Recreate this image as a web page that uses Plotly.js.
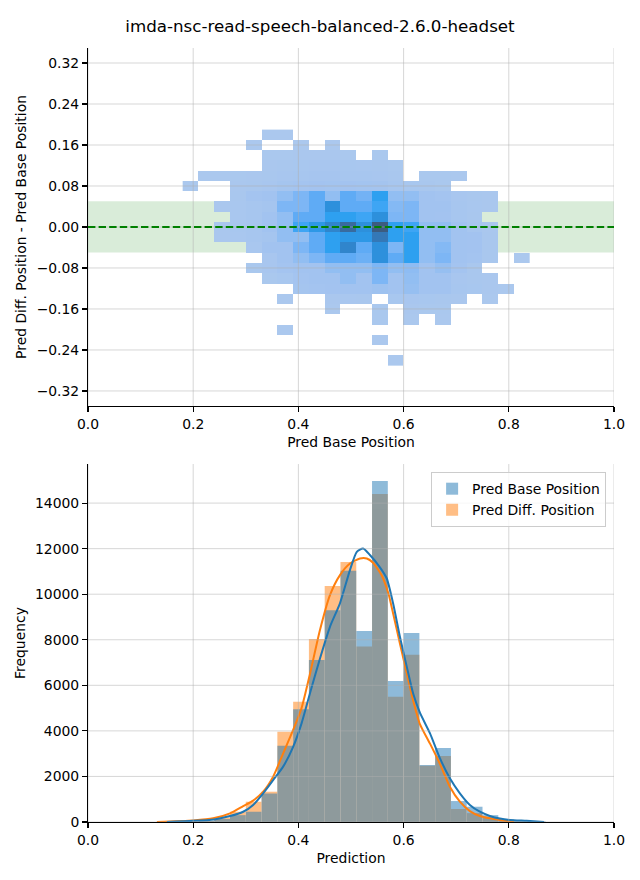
<!DOCTYPE html>
<html>
<head>
<meta charset="utf-8">
<script src="https://cdn.plot.ly/plotly-3.0.1.min.js"></script>
<style>html,body{margin:0;padding:0;background:#fff}#chart{width:640px;height:880px}</style>
</head>
<body>
<div id="chart"></div>
<script>
// ---------- 2D histogram (top) ----------
const heatX = [0.195,0.225,0.255,0.285,0.315,0.345,0.375,0.405,0.435,0.465,0.495,0.525,0.555,0.585,0.615,0.645,0.675,0.705,0.735,0.765,0.795,0.825];
const heatY = [-0.26,-0.24,-0.22,-0.20,-0.18,-0.16,-0.14,-0.12,-0.10,-0.08,-0.06,-0.04,-0.02,0.00,0.02,0.04,0.06,0.08,0.10,0.12,0.14,0.16,0.18];
const heatCounts = [
  [0,0,0,0,0,0,0,0,0,0,0,0,0,4,0,0,0,0,0,0,0,0],
  [0,0,0,0,0,0,0,0,0,0,0,0,0,0,0,0,0,0,0,0,0,0],
  [0,0,0,0,0,0,0,0,0,0,0,0,6,0,0,0,0,0,0,0,0,0],
  [0,0,0,0,0,0,5,0,0,0,0,0,0,0,0,0,0,0,0,0,0,0],
  [0,0,0,0,0,0,0,0,0,0,0,0,20,0,15,0,10,0,0,0,0,0],
  [0,0,0,0,0,0,0,0,0,15,0,0,30,0,40,30,20,0,0,0,0,0],
  [0,0,0,0,0,0,8,0,0,40,80,60,0,90,100,90,70,40,0,12,0,0],
  [0,0,0,0,0,0,0,200,250,280,300,300,350,300,450,300,300,120,90,50,15,0],
  [0,0,0,0,0,30,90,250,300,300,500,300,720,300,500,300,300,110,70,40,0,0],
  [0,0,0,0,30,100,250,300,300,500,500,500,720,500,550,300,450,250,60,0,0,0],
  [0,0,0,0,0,100,300,500,720,950,950,850,1680,950,1420,500,720,300,250,70,0,8],
  [0,0,0,0,80,300,300,720,950,1420,1800,950,1680,720,1420,500,650,300,280,60,0,0],
  [0,0,40,80,140,200,500,500,950,1420,1550,1550,1950,1420,1420,500,500,300,280,60,0,0],
  [0,0,50,90,150,300,500,1200,1550,1800,2150,1680,2400,1420,1200,500,500,300,120,50,0,0],
  [0,0,0,80,140,300,500,950,950,1420,1420,1200,1680,720,720,300,280,120,60,0,0,0],
  [0,0,40,80,130,200,720,720,950,1680,950,950,1200,650,720,300,300,120,80,40,0,0],
  [0,0,0,70,250,300,500,720,950,500,950,800,1420,500,500,300,250,100,70,40,0,0],
  [8,0,0,40,70,110,200,250,280,260,280,260,220,140,90,60,30,0,0,0,0,0],
  [0,10,15,25,40,60,110,150,170,160,150,140,100,60,0,30,25,15,0,0,0,0],
  [0,0,0,0,0,40,70,90,110,100,90,80,60,30,0,0,0,0,0,0,0,0],
  [0,0,0,0,0,20,30,40,45,40,30,0,25,0,0,0,0,0,0,0,0,0],
  [0,0,0,0,6,0,0,12,0,14,0,0,0,0,0,0,0,0,0,0,0,0],
  [0,0,0,0,0,8,10,0,0,0,0,0,0,0,0,0,0,0,0,0,0,0]
];
const bandLimits = [-0.05, 0.05];
const zeroLineY = 0;

// ---------- 1D histograms (bottom) ----------
const histX = [0.165,0.195,0.225,0.255,0.285,0.315,0.345,0.375,0.405,0.435,0.465,0.495,0.525,0.555,0.585,0.615,0.645,0.675,0.705,0.735,0.765,0.795,0.825,0.855];
const baseCounts = [10,20,40,130,300,450,1250,3350,4950,7110,9300,11030,8380,14970,6190,8300,2500,3250,920,670,300,110,50,25];
const diffCounts = [40,25,50,200,450,890,1330,3960,5280,8030,10360,11410,7700,14400,5500,7340,2470,2900,570,390,200,80,30,5];
const binWidth = 0.03;

const kdeBaseX = [0.150,0.200,0.240,0.270,0.295,0.314,0.333,0.352,0.371,0.390,0.406,0.422,0.441,0.460,0.479,0.498,0.511,0.523,0.536,0.555,0.568,0.580,0.593,0.606,0.618,0.631,0.650,0.669,0.688,0.707,0.726,0.745,0.764,0.783,0.802,0.834,0.867];
const kdeBaseY = [5,50,115,260,450,750,1260,1840,2430,3300,4330,5650,7180,8570,9600,11060,11860,12010,11720,11180,10690,9600,8130,6820,5650,4800,3900,2800,1920,1260,750,450,265,150,90,50,0];
const kdeDiffX = [0.131,0.200,0.238,0.270,0.295,0.314,0.333,0.352,0.371,0.390,0.406,0.422,0.441,0.460,0.479,0.498,0.517,0.530,0.542,0.558,0.571,0.580,0.593,0.606,0.618,0.631,0.650,0.669,0.688,0.707,0.726,0.745,0.764,0.783,0.810];
const kdeDiffY = [0,70,160,380,700,940,1330,1990,3010,4040,5000,6500,8430,9960,10840,11350,11570,11570,11380,10840,10040,9160,7840,6530,5350,4300,3450,2550,1550,890,480,263,160,88,0];

// ---------- ticks ----------
const xTickVals = [0,0.2,0.4,0.6,0.8,1.0];
const xTickText = ['0.0','0.2','0.4','0.6','0.8','1.0'];
const topYTickVals = [-0.32,-0.24,-0.16,-0.08,0,0.08,0.16,0.24,0.32];
const topYTickText = ['\u22120.32','\u22120.24','\u22120.16','\u22120.08','0.00','0.08','0.16','0.24','0.32'];
const botYTickVals = [0,2000,4000,6000,8000,10000,12000,14000];
const botYTickText = ['0','2000','4000','6000','8000','10000','12000','14000'];

const FAM = 'DejaVu Sans';
const font = {family: FAM, size: 13.9, color: '#000'};
const BLUE = '#1f77b4', ORANGE = '#ff7f0e';

const heatZ = heatCounts.map(r => r.map(v => v > 0 ? v : null));

const traces = [
  {type:'heatmap', x: heatX, y: heatY, z: heatZ, xaxis:'x', yaxis:'y',
   zmin:0, zmax:2400, showscale:false, hoverinfo:'skip', zsmooth:false,
   colorscale:[[0,'#abc8ee'],[0.125,'#a2c3f0'],[0.21,'#92bef2'],[0.3,'#7db6f5'],[0.4,'#5eabf5'],[0.5,'#3ea5f4'],[0.59,'#2ea0f0'],[0.7,'#2d90dc'],[0.81,'#3478b8'],[1,'#3c5c80']]},
  {type:'bar', x: histX, y: diffCounts, width: binWidth, xaxis:'x2', yaxis:'y2',
   name:'Pred Diff. Position', legendrank:2, opacity:0.5,
   marker:{color: ORANGE, line:{width:0}}},
  {type:'bar', x: histX, y: baseCounts, width: binWidth, xaxis:'x2', yaxis:'y2',
   name:'Pred Base Position', legendrank:1, opacity:0.5,
   marker:{color: BLUE, line:{width:0}}},
  {type:'scatter', mode:'lines', x: kdeDiffX, y: kdeDiffY, xaxis:'x2', yaxis:'y2',
   line:{color: ORANGE, width:2, shape:'spline', smoothing:0.6}, showlegend:false, hoverinfo:'skip'},
  {type:'scatter', mode:'lines', x: kdeBaseX, y: kdeBaseY, xaxis:'x2', yaxis:'y2',
   line:{color: BLUE, width:2, shape:'spline', smoothing:0.6}, showlegend:false, hoverinfo:'skip'}
];

const axisCommon = {
  showline:true, linecolor:'#000', linewidth:1.1, ticks:'outside', ticklen:4.9,
  tickwidth:1.1, tickcolor:'#000', showgrid:false, zeroline:false, mirror:false,
  tickfont: font, fixedrange:true
};

const gridColor = 'rgba(176,176,176,0.5)';
const shapes = [];
shapes.push({type:'rect', xref:'x domain', yref:'y', x0:0, x1:1, y0:bandLimits[0], y1:bandLimits[1],
  fillcolor:'rgba(0,128,0,0.15)', line:{width:0}, layer:'below'});
xTickVals.forEach(t => {
  shapes.push({type:'line', xref:'x', yref:'y domain', x0:t, x1:t, y0:0, y1:1, line:{color:gridColor, width:1}, layer:'above'});
  shapes.push({type:'line', xref:'x2', yref:'y2 domain', x0:t, x1:t, y0:0, y1:1, line:{color:gridColor, width:1}, layer:'above'});
});
topYTickVals.forEach(t => {
  shapes.push({type:'line', xref:'x domain', yref:'y', x0:0, x1:1, y0:t, y1:t, line:{color:gridColor, width:1}, layer:'above'});
});
botYTickVals.forEach(t => {
  shapes.push({type:'line', xref:'x2 domain', yref:'y2', x0:0, x1:1, y0:t, y1:t, line:{color:gridColor, width:1}, layer:'above'});
});
shapes.push({type:'line', xref:'x domain', yref:'y', x0:0, x1:1, y0:zeroLineY, y1:zeroLineY,
  line:{color:'#008000', width:2, dash:'7.4px,3.2px'}, layer:'above'});

const layout = {
  width:640, height:880,
  margin:{l:88, r:26, t:48, b:58},
  paper_bgcolor:'#fff', plot_bgcolor:'#fff',
  font: font,
  title:{text:'imda-nsc-read-speech-balanced-2.6.0-headset', x:0.5, xref:'container', xanchor:'center',
         y:1-26/880, yref:'container', yanchor:'middle', font:{family:FAM, size:16.7, color:'#000'}},
  xaxis:Object.assign({}, axisCommon, {domain:[0,1], range:[0,1], anchor:'y', tickmode:'array',
         tickvals:xTickVals, ticktext:xTickText, title:{text:'Pred Base Position', font:font, standoff:6}}),
  yaxis:Object.assign({}, axisCommon, {domain:[0.5375,1], range:[-0.3493,0.3493], anchor:'x', tickmode:'array',
         tickvals:topYTickVals, ticktext:topYTickText, title:{text:'Pred Diff. Position - Pred Base Position', font:font, standoff:6}}),
  xaxis2:Object.assign({}, axisCommon, {domain:[0,1], range:[0,1], anchor:'y2', tickmode:'array',
         tickvals:xTickVals, ticktext:xTickText, title:{text:'Prediction', font:font, standoff:6}}),
  yaxis2:Object.assign({}, axisCommon, {domain:[0,0.4625], range:[0,15715], anchor:'x2', tickmode:'array',
         tickvals:botYTickVals, ticktext:botYTickText, title:{text:'Frequency', font:font, standoff:6}}),
  barmode:'overlay',
  showlegend:true,
  legend:{x:0.985, y:0.452, xanchor:'right', yanchor:'top', bgcolor:'rgba(255,255,255,0.8)',
          bordercolor:'#cccccc', borderwidth:1, font:font, tracegroupgap:0},
  shapes: shapes
};

Plotly.newPlot('chart', traces, layout, {displayModeBar:false, staticPlot:true});
</script>
</body>
</html>
